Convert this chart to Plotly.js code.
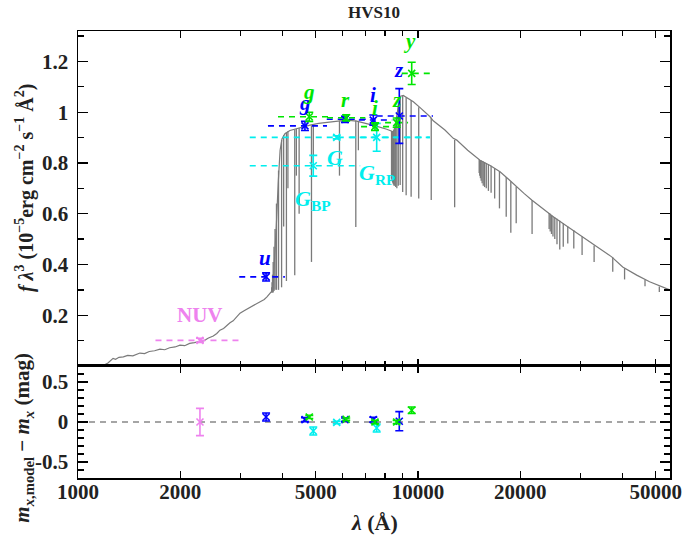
<!DOCTYPE html>
<html><head><meta charset="utf-8">
<script src="https://cdn.plot.ly/plotly-3.0.1.min.js"></script>
<style>html,body{margin:0;padding:0;background:#fff}#plot{width:684px;height:542px}</style>
</head><body><div id="plot"></div>
<script>
// ---------- model spectrum (continuum envelope) ----------
const contWave = [1000,1060,1107,1150,1190,1225,1250,1268,1290,1320,1360,1400,1450,1521,1570,1620,1680,1742,1800,1860,1930,1995,2060,2130,2200,2284,2350,2420,2500,2560,2615,2680,2740,2799,2860,2930,2996,3080,3160,3269,3350,3450,3530,3596,3660,3700,3743,3780,3830,3880,3930,3980,4060,4200,4400,4650,4813,5100,5635,6170,6600,7063,7500,8090,8300,8460,8550,8650,8750,8850,9050,9300,9690,10200,10850,11090,12000,12700,13000,14000,15220,16300,17430,18500,19500,20500,21600,23000,25000,27500,29960,33000,37130,40000,43980,48000,52000,55000];
const contFlux = [-0.03,-0.012,0.0,0.005,0.003,0.012,0.022,0.030,0.026,0.034,0.036,0.042,0.040,0.051,0.049,0.057,0.060,0.066,0.064,0.072,0.075,0.082,0.080,0.089,0.092,0.097,0.100,0.110,0.118,0.128,0.141,0.148,0.160,0.170,0.178,0.196,0.208,0.218,0.226,0.235,0.244,0.255,0.262,0.272,0.283,0.292,0.303,0.40,0.55,0.72,0.85,0.895,0.915,0.928,0.936,0.944,0.949,0.956,0.963,0.969,0.965,0.956,0.946,0.933,0.928,0.923,0.94,0.98,1.03,1.062,1.066,1.055,1.041,1.015,0.982,0.966,0.93,0.897,0.89,0.85,0.811,0.79,0.765,0.735,0.706,0.68,0.654,0.625,0.588,0.55,0.516,0.475,0.43,0.39,0.358,0.332,0.315,0.30];
// ---------- absorption lines: wavelength, flux at line edge, flux at line core ----------
const lineWave   = [3712,3722,3734,3750,3771,3798,3835,3889,3970,4026,4102,4144,4340,4388,4471,4861,4922,5876,6563,6678,
                    8359,8374,8392,8413,8438,8467,8502,8545,8598,8665,8750,8863,9015,9229,9546,10049,10938,12818,18751,
                    15134,15192,15260,15341,15439,15556,15700,15880,16109,16407,16807,17362,18174,19445,21655,
                    24304,24483,24694,24946,25254,25634,26119,26744,27575,28722,30384,32961,37395,40512,46525,51260,53640];
const lineTop    = [0.31,0.33,0.36,0.41,0.47,0.54,0.64,0.77,0.89,0.91,0.92,0.925,0.932,0.934,0.937,0.948,0.95,0.967,0.967,0.966,
                    0.926,0.926,0.925,0.924,0.923,0.924,0.93,0.94,0.96,0.985,1.03,1.062,1.066,1.058,1.046,1.02,0.978,0.89,0.727,
                    0.813,0.812,0.811,0.81,0.808,0.806,0.803,0.80,0.795,0.789,0.78,0.767,0.745,0.707,0.653,
                    0.603,0.60,0.595,0.59,0.585,0.58,0.572,0.562,0.55,0.535,0.51,0.475,0.428,0.385,0.34,0.313,0.307];
const lineBottom = [0.29,0.29,0.29,0.29,0.295,0.30,0.30,0.30,0.31,0.55,0.335,0.70,0.358,0.75,0.60,0.41,0.80,0.75,0.548,0.85,
                    0.74,0.735,0.73,0.725,0.72,0.715,0.71,0.71,0.705,0.70,0.71,0.713,0.686,0.673,0.667,0.66,0.654,0.625,0.525,
                    0.76,0.75,0.74,0.73,0.72,0.71,0.705,0.70,0.69,0.683,0.66,0.621,0.588,0.562,0.52,
                    0.54,0.53,0.52,0.51,0.50,0.48,0.459,0.47,0.483,0.463,0.437,0.41,0.371,0.341,0.314,0.292,0.296];

// ---------- photometry ----------
// GALEX (violet)
const galexBand = ['NUV'];
const galexWave = [2284];
const galexFlux = [0.101];
const galexFluxErr = [0.008];
const galexLo = [1690];
const galexHi = [2990];
const galexRes = [0.0];
const galexResErr = [0.17];
// SDSS (blue)
const sdssBand = ['u','g','r','i','z'];
const sdssWave = [3574,4651,6100,7388,8810];
const sdssFlux = [0.351,0.946,0.972,0.969,0.985];
const sdssFluxErr = [0.016,0.018,0.012,0.02,0.108];
const sdssLo = [2980,3620,5390,6700,7560];
const sdssHi = [4060,5400,7060,8400,11070];
const sdssRes = [0.063,0.03,0.03,0.03,0.01];
const sdssResErr = [0.05,0.025,0.02,0.03,0.12];
// Pan-STARRS (green)
const ps1Band = ['g','r','i','z','y'];
const ps1Wave = [4789,6150,7473,8657,9583];
const ps1Flux = [0.982,0.978,0.943,0.959,1.153];
const ps1FluxErr = [0.018,0.012,0.015,0.018,0.044];
const ps1Lo = [3875,5400,6800,8000,8960];
const ps1Hi = [5500,7000,8300,9350,10900];
const ps1Res = [0.063,0.035,0.0,0.0,0.147];
const ps1ResErr = [0.02,0.015,0.02,0.02,0.04];
// Gaia (cyan)
const gaiaBand = ['G_BP','G','G_RP'];
const gaiaWave = [4920,5767,7560];
const gaiaFlux = [0.789,0.901,0.901];
const gaiaFluxErr = [0.041,0.006,0.055];
const gaiaLo = [3200,3200,6300];
const gaiaHi = [6760,10840,10840];
const gaiaRes = [-0.113,-0.005,-0.075];
const gaiaResErr = [0.05,0.015,0.05];

// axis ticks
const xMajor = [1000,2000,5000,10000,20000,50000];
const xMajorText = ['1000','2000','5000','10000','20000','50000'];
const xMinor = [3000,4000,6000,7000,8000,9000,30000,40000];
const yTopTicks = [0.2,0.4,0.6,0.8,1,1.2];
const yTopText = ['0.2','0.4','0.6','0.8','1','1.2'];
const yBotTicks = [-0.5,0,0.5];
const yBotText = ['-0.5','0','0.5'];

const COL = {galex:'#ee82ee', sdss:'#0000ff', ps1:'#00e600', gaia:'#00eeee', spec:'#7a7a7a'};
const SERIF = 'Liberation Serif, Times New Roman, serif';

function segs(xs, y0s, y1s){ const X=[],Y=[]; xs.forEach((x,i)=>{X.push(x,x,null);Y.push(y0s[i],y1s[i],null);}); return {X,Y}; }
function hsegs(lo, hi, ys){ const X=[],Y=[]; lo.forEach((l,i)=>{X.push(l,hi[i],null);Y.push(ys[i],ys[i],null);}); return {X,Y}; }

const traces = [];
traces.push({x:contWave, y:contFlux, mode:'lines', line:{color:COL.spec, width:1.2}, xaxis:'x', yaxis:'y', hoverinfo:'skip'});
const L = segs(lineWave, lineTop, lineBottom);
traces.push({x:L.X, y:L.Y, mode:'lines', line:{color:COL.spec, width:1.3}, xaxis:'x', yaxis:'y', connectgaps:false, hoverinfo:'skip'});

const groups = [
  {c:COL.galex, w:galexWave, f:galexFlux, e:galexFluxErr, lo:galexLo, hi:galexHi, r:galexRes, re:galexResErr},
  {c:COL.gaia, w:gaiaWave, f:gaiaFlux, e:gaiaFluxErr, lo:gaiaLo, hi:gaiaHi, r:gaiaRes, re:gaiaResErr},
  {c:COL.sdss, w:sdssWave, f:sdssFlux, e:sdssFluxErr, lo:sdssLo, hi:sdssHi, r:sdssRes, re:sdssResErr},
  {c:COL.ps1, w:ps1Wave, f:ps1Flux, e:ps1FluxErr, lo:ps1Lo, hi:ps1Hi, r:ps1Res, re:ps1ResErr},
];
groups.forEach(g=>{
  const H = hsegs(g.lo, g.hi, g.f);
  traces.push({x:H.X, y:H.Y, mode:'lines', line:{color:g.c, width:1.6, dash:'6px,5px'}, xaxis:'x', yaxis:'y', connectgaps:false, hoverinfo:'skip'});
});
groups.forEach(g=>{
  traces.push({x:g.w, y:g.f, mode:'markers', marker:{symbol:'x-thin', size:7, line:{color:g.c, width:1.6}, color:g.c},
    error_y:{type:'data', array:g.e, color:g.c, thickness:1.6, width:4}, xaxis:'x', yaxis:'y'});
  traces.push({x:g.w, y:g.r, mode:'markers', marker:{symbol:'x-thin', size:7, line:{color:g.c, width:1.6}, color:g.c},
    error_y:{type:'data', array:g.re, color:g.c, thickness:1.6, width:4}, xaxis:'x2', yaxis:'y2'});
});

const lx = v => Math.log10(v);
const tf = (c, italic, size) => ({family:SERIF, size:size||21, color:c, weight:'bold', style: italic?'italic':'normal'});
const ann = [
  {x:lx(2284), y:0.20, text:'NUV', font:tf(COL.galex,false,21)},
  {x:lx(3560), y:0.425, text:'u', font:tf(COL.sdss,true)},
  {x:lx(4651), y:1.035, text:'g', font:tf(COL.sdss,true)},
  {x:lx(4789), y:1.078, text:'g', font:tf(COL.ps1,true)},
  {x:lx(6100), y:1.048, text:'r', font:tf(COL.ps1,true)},
  {x:lx(7388), y:1.068, text:'i', font:tf(COL.sdss,true)},
  {x:lx(7473), y:1.017, text:'i', font:tf(COL.ps1,true)},
  {x:lx(8790), y:1.166, text:'z', font:tf(COL.sdss,true)},
  {x:lx(8657), y:1.048, text:'z', font:tf(COL.ps1,true)},
  {x:lx(9460), y:1.282, text:'y', font:tf(COL.ps1,true)},
  {x:lx(5700), y:0.823, text:'<i>G</i>', font:tf(COL.gaia,false,22)},
  {x:lx(4920), y:0.655, text:'<i>G</i><sub>BP</sub>', font:tf(COL.gaia,false,22)},
  {x:lx(7600), y:0.755, text:'<i>G</i><sub>RP</sub>', font:tf(COL.gaia,false,22)},
].map(a=>Object.assign({xref:'x', yref:'y', showarrow:false, xanchor:'center', yanchor:'middle'}, a));

ann.push({xref:'paper', yref:'paper', x:-0.09, y:0.648, textangle:-90, showarrow:false, xanchor:'center', yanchor:'middle',
  text:'<i>f</i> <i>λ</i><sup>3</sup> (10<sup>−5</sup>erg cm<sup>−2</sup> s<sup>−1</sup> Å<sup>2</sup>)', font:{family:SERIF, size:20, color:'#222', weight:'bold'}});
ann.push({xref:'paper', yref:'paper', x:-0.093, y:0.09, textangle:-90, showarrow:false, xanchor:'center', yanchor:'middle',
  text:'<i>m</i><sub><i>x</i>,model</sub> − <i>m</i><sub><i>x</i></sub> (mag)', font:{family:SERIF, size:21, color:'#222', weight:'bold'}});
ann.push({xref:'paper', yref:'paper', x:0.5, y:-0.10, showarrow:false, xanchor:'center', yanchor:'middle',
  text:'<i>λ</i> (Å)', font:{family:SERIF, size:22, color:'#222', weight:'bold'}});

const tickFont = {family:SERIF, size:21, color:'#222', weight:'bold'};
const xBase = {type:'log', range:[3, 4.7412], tickmode:'array', tickvals:xMajor, ticktext:xMajorText, ticks:'inside', ticklen:7, tickwidth:1.3, tickcolor:'#000',
  minor:{tickmode:'array', tickvals:xMinor, ticks:'inside', ticklen:5, tickwidth:1.3, tickcolor:'#000'},
  showline:true, linecolor:'#000', linewidth:1.5, mirror:'allticks', showgrid:false, zeroline:false, tickfont:tickFont};
const layout = {
  width:684, height:542, margin:{l:78, r:14, t:31, b:64}, paper_bgcolor:'#fff', plot_bgcolor:'#fff', showlegend:false,
  title:{text:'HVS10', x:0.5, xref:'paper', y:1-12/542, yref:'container', xanchor:'center', yanchor:'middle', font:{family:SERIF, size:17, color:'#222', weight:'bold'}},
  xaxis:Object.assign({}, xBase, {anchor:'y', showticklabels:false, domain:[0,1]}),
  xaxis2:Object.assign({}, xBase, {anchor:'y2', showticklabels:true, domain:[0,1], matches:'x', ticklabelstandoff:-6}),
  yaxis:{domain:[0.2506,1], range:[0,1.32], anchor:'x', tickmode:'array', tickvals:yTopTicks, ticktext:yTopText, ticks:'inside', ticklen:10, tickwidth:1.3, tickcolor:'#000',
    minor:{dtick:0.1, tick0:0, ticks:'inside', ticklen:6, tickwidth:1.3, tickcolor:'#000'},
    showline:true, linecolor:'#000', linewidth:1.5, mirror:'allticks', showgrid:false, zeroline:false, tickfont:tickFont, ticklabelstandoff:4},
  yaxis2:{domain:[0,0.2506], range:[-0.7,0.7], anchor:'x2', tickmode:'array', tickvals:yBotTicks, ticktext:yBotText, ticks:'inside', ticklen:10, tickwidth:1.3, tickcolor:'#000',
    minor:{dtick:0.1, tick0:0, ticks:'inside', ticklen:6, tickwidth:1.3, tickcolor:'#000'},
    showline:true, linecolor:'#000', linewidth:1.5, mirror:'allticks', showgrid:false, zeroline:false, tickfont:tickFont, ticklabelstandoff:4},
  shapes:[{type:'line', xref:'x2 domain', x0:0, x1:1, yref:'y2', y0:0, y1:0, line:{color:'#888', width:1.5, dash:'6px,5px'}, layer:'below'}],
  annotations:ann
};
Plotly.newPlot('plot', traces, layout, {displayModeBar:false, staticPlot:true});
</script></body></html>
